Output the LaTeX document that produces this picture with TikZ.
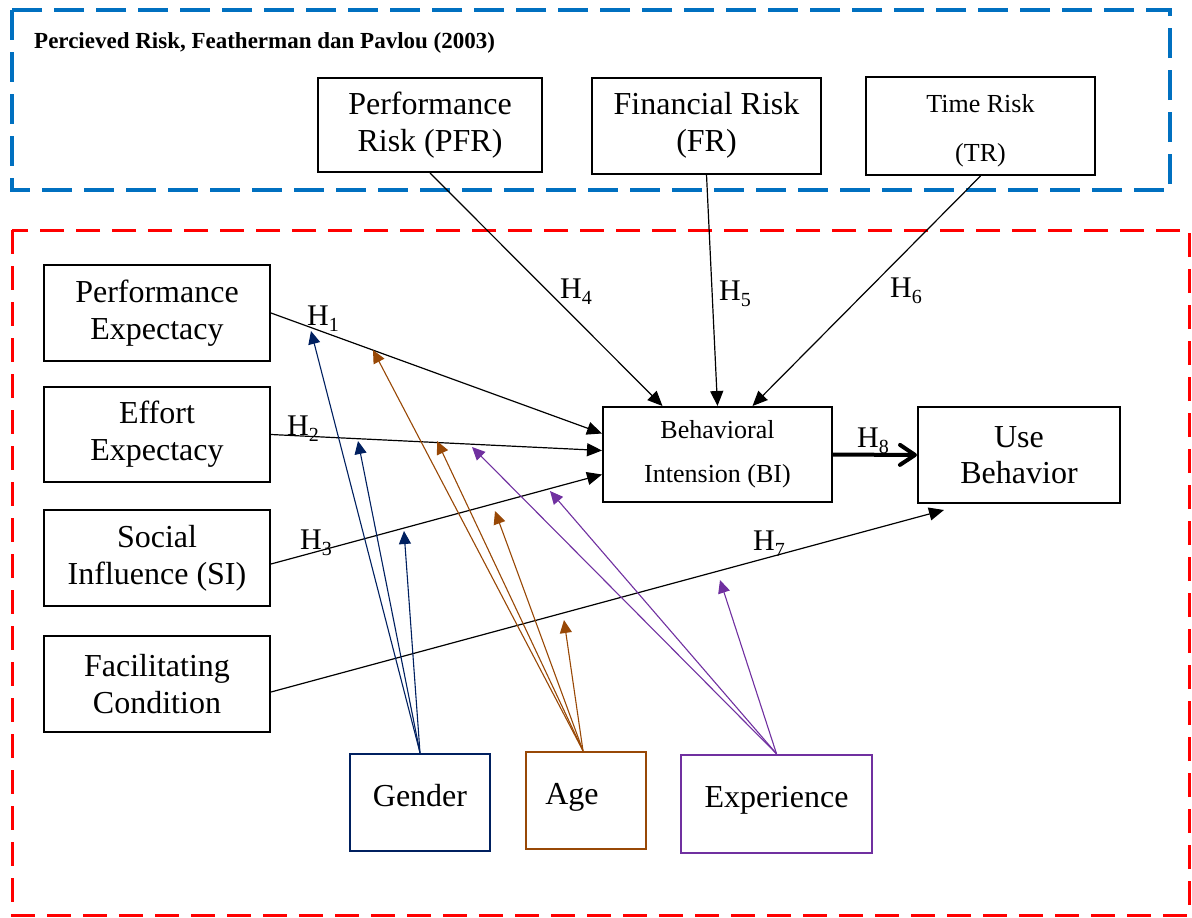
\documentclass[tikz,border=0pt]{standalone}
\usepackage{fontspec}
\setmainfont{Liberation Serif}
\usetikzlibrary{arrows.meta}
\definecolor{navyc}{RGB}{0,32,96}
\definecolor{brownc}{RGB}{152,72,6}
\definecolor{purplec}{RGB}{112,48,160}
\definecolor{bluedash}{RGB}{0,112,192}
\definecolor{reddash}{RGB}{255,0,0}
\newcommand{\Hsub}[1]{H\raisebox{-6pt}{\fontsize{20}{20}\selectfont #1}}
\begin{document}
\begin{tikzpicture}[x=1pt,y=-1pt,
  box/.style={draw=black, line width=2pt, align=center, inner sep=0pt, font=\fontsize{32}{37}\selectfont},
  modbox/.style={line width=2.5pt, align=center, inner sep=0pt, font=\fontsize{32}{37}\selectfont},
  arr/.style={line width=1.2pt, -{Triangle[length=15pt,width=13pt]}},
  modarr/.style={line width=1.1pt, -{Triangle[length=13pt,width=12pt]}},
  hlab/.style={anchor=base west, inner sep=0pt, font=\fontsize{30}{30}\selectfont}
]
\useasboundingbox (0,0) rectangle (1192,918);
% dashed frames
\draw[bluedash, line width=3.5pt, dash pattern=on 30pt off 12pt] (12,10) rectangle (1170,190);
\draw[reddash, line width=3pt, dash pattern=on 24pt off 12pt] (12,230) rectangle (1189,915);
\node[anchor=base west, inner sep=0pt, font=\bfseries\fontsize{23}{26}\selectfont] (title) at (34,48) {Percieved Risk, Featherman dan Pavlou (2003)};

% top boxes
\node[box, minimum width=224, minimum height=94] (pfr) at (430,125) {Performance\\Risk (PFR)};
\node[box, minimum width=229, minimum height=96] (fr) at (706.5,125.5) {Financial Risk\\(FR)};
\node[box, minimum width=229, minimum height=98, font=\fontsize{26}{49}\selectfont] (tr) at (980.5,126) {\rule{0pt}{27pt}Time Risk\\(TR)};

% left boxes
\node[box, minimum width=226, minimum height=96] (pe) at (157,313) {Performance\\Expectacy};
\node[box, minimum width=226, minimum height=95] (ee) at (157,434.5) {Effort\\Expectacy};
\node[box, minimum width=226, minimum height=96] (si) at (157,558) {Social\\Influence (SI)};
\node[box, minimum width=226, minimum height=96] (fc) at (157,684) {Facilitating\\Condition};

% center boxes
\node[box, minimum width=229, minimum height=95, font=\fontsize{26}{44}\selectfont] (bi) at (717.5,454.5) {Behavioral\\Intension (BI)};
\node[box, minimum width=202, minimum height=96, font=\fontsize{32}{36}\selectfont] (ub) at (1019,455) {Use\\Behavior};

% moderators
\node[modbox, draw=navyc, minimum width=140, minimum height=97, text depth=14pt] (gender) at (420,802.5) {Gender};
\node[modbox, draw=brownc, minimum width=120, minimum height=97, text depth=14pt] (age) at (586,800.5) {Age\hspace*{28pt}};
\node[modbox, draw=purplec, minimum width=191, minimum height=98, text depth=14pt] (exp) at (776.5,804) {Experience};

% main arrows
\draw[arr] (pfr.south) -- ([xshift=-55pt]bi.north);
\draw[arr] (fr.south) -- (bi.north);
\draw[arr] (tr.south) -- ([xshift=35pt]bi.north);
\draw[arr] (pe.east) -- ([yshift=21pt]bi.west);
\draw[arr] (ee.east) -- ([yshift=4pt]bi.west);
\draw[arr] ([yshift=-6pt]si.east) -- ([yshift=-20pt]bi.west);
\draw[arr] ([yshift=-8pt]fc.east) -- ([xshift=-75pt,yshift=-6pt]ub.south);
\draw[line width=4pt, -{Straight Barb[length=15pt,width=20pt,round]}] (bi.east) -- (ub.west);

% hypothesis labels
\node[hlab] (h1) at (307,325) {\Hsub{1}};
\node[hlab] (h2) at (287,435) {\Hsub{2}};
\node[hlab] (h3) at (300,549) {\Hsub{3}};
\node[hlab] (h4) at (560,298) {\Hsub{4}};
\node[hlab] (h5) at (719,300) {\Hsub{5}};
\node[hlab] (h6) at (890,297) {\Hsub{6}};
\node[hlab] (h7) at (753,550) {\Hsub{7}};
\node[hlab] (h8) at (857,447) {\Hsub{8}};

% moderator arrow tips
\coordinate (g1) at (311,331);
\coordinate (g2) at (358,441);
\coordinate (g3) at (404,531);
\coordinate (a1) at (373,350);
\coordinate (a2) at (437,441);
\coordinate (a3) at (495,511);
\coordinate (a4) at (564,620);
\coordinate (e1) at (472,447);
\coordinate (e2) at (550,491);
\coordinate (e3) at (720,580);

\foreach \t in {g1,g2,g3} \draw[modarr, navyc] (gender.north) -- (\t);
\foreach \t in {a1,a2,a3,a4} \draw[modarr, brownc] ([xshift=-3pt]age.north) -- (\t);
\foreach \t in {e1,e2,e3} \draw[modarr, purplec] (exp.north) -- (\t);
\end{tikzpicture}
\end{document}
